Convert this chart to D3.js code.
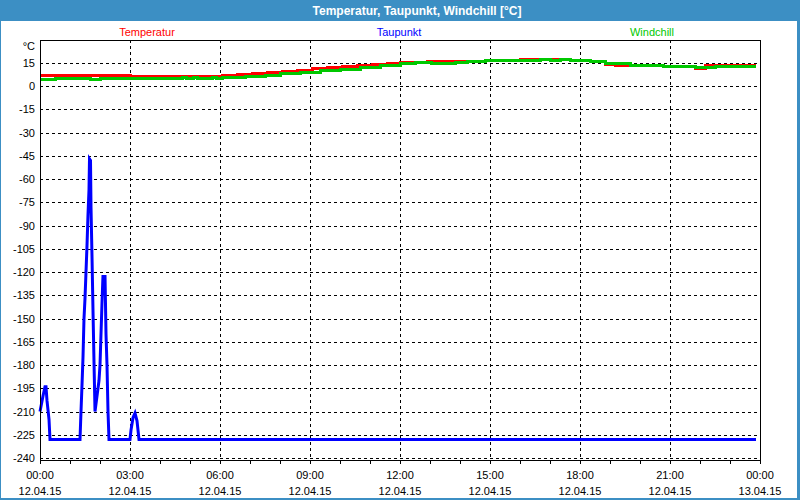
<!DOCTYPE html>
<html><head><meta charset="utf-8">
<script src="https://cdn.jsdelivr.net/npm/d3@7"></script>
<style>html,body{margin:0;padding:0;background:#fff;}svg{display:block;}</style>
</head><body>
<svg id="c" width="800" height="500"></svg>
<script>
const title = "Temperatur, Taupunkt, Windchill [°C]";
const seriesNames = ["Temperatur", "Taupunkt", "Windchill"];
const seriesColors = ["#ff0000", "#0000ff", "#00c800"];
const yTicks = [15,0,-15,-30,-45,-60,-75,-90,-105,-120,-135,-150,-165,-180,-195,-210,-225,-240];
const xTickTimes = ["00:00","03:00","06:00","09:00","12:00","15:00","18:00","21:00","00:00"];
const xTickDates = ["12.04.15","12.04.15","12.04.15","12.04.15","12.04.15","12.04.15","12.04.15","12.04.15","13.04.15"];

// Temperatur
const tempTimes = ["00:00","03:00","06:04","06:34","07:04","07:34","08:04","08:34","09:04","09:34","10:04","10:34","11:04","11:34","12:00","12:54","13:02","13:50","14:50","16:00","17:40","18:20","18:50","19:10","19:40","20:46","21:00","21:50","22:10","23:52"];
const tempValues = [7.0,6.2,6.8,7.4,8.0,8.7,9.3,10.2,11.1,11.9,12.8,13.4,14.1,14.7,14.9,16.0,15.5,16.0,16.3,17.0,16.3,15.6,14.0,13.5,13.1,12.7,12.3,11.6,13.0,13.0];
// Windchill
const chillTimes = ["00:00","00:30","01:40","02:00","04:44","04:52","05:06","05:14","05:44","05:52","06:04","06:50","07:30","08:00","08:40","09:20","10:00","10:40","11:20","12:00","12:30","13:02","13:50","14:14","14:50","16:40","17:00","17:20","17:40","18:20","18:50","19:10","19:40","20:36","20:46","21:00","21:50","22:10","22:30","23:52"];
const chillValues = [4.4,5.0,4.4,5.0,5.6,5.0,5.6,5.0,5.6,5.0,5.5,6.1,7.0,7.8,8.9,9.8,10.8,11.7,13.0,14.3,15.0,14.8,15.3,16.0,16.3,17.0,16.3,17.0,16.3,15.6,14.8,14.5,13.1,13.4,12.7,12.3,11.8,12.0,12.3,12.3];
// Taupunkt
const dewTimes = ["00:00","00:06","00:10","00:12","00:14","00:18","00:20","01:20","01:22","01:24","01:26","01:28","01:30","01:32","01:34","01:36","01:38","01:39","01:41","01:42","01:44","01:46","01:48","01:50","01:52","01:54","01:56","01:58","02:00","02:02","02:04","02:06","02:08","02:10","02:12","02:14","02:16","02:18","03:00","03:02","03:06","03:10","03:14","03:18","23:52"];
const dewValues = [-210,-200,-194,-194,-203,-215,-228,-228,-210,-193,-175,-150,-137,-120,-103,-83,-67,-47,-48,-78,-110,-145,-178,-210,-205,-200,-195,-190,-180,-160,-140,-122,-135,-122,-160,-180,-210,-228,-228,-222,-214,-211,-216,-228,-228];

const toH = s => { const [h,m] = s.split(":").map(Number); return h + m/60; };
const svg = d3.select("#c");
const W = 800, H = 500;
const L = 40, R = 760, T = 40, B = 460;
const x = d3.scaleLinear().domain([0,24]).range([L,R]);
const y = d3.scaleLinear().domain([-240,30]).range([458,39.5]);
const FONT = "'Liberation Sans', Arial, sans-serif";

svg.append("rect").attr("width",W).attr("height",H).attr("fill","#fff");
// title bar
svg.append("rect").attr("x",0).attr("y",0).attr("width",W).attr("height",21).attr("fill","#3c8fc4");
svg.append("text").attr("x",417).attr("y",15).attr("text-anchor","middle")
  .attr("font-family",FONT).attr("font-weight","bold").attr("font-size",12).attr("fill","#fff").text(title);
// window edges
svg.append("rect").attr("x",0).attr("y",0).attr("width",1).attr("height",H).attr("fill","#3c8fc4");
svg.append("rect").attr("x",797).attr("y",0).attr("width",3).attr("height",H).attr("fill","#3c8fc4");
svg.append("rect").attr("x",0).attr("y",498).attr("width",W).attr("height",2).attr("fill","#3c8fc4");

// legend
const legX = [147, 399, 652];
seriesNames.forEach((n,i)=>{
  svg.append("text").attr("x",legX[i]).attr("y",36).attr("text-anchor","middle")
    .attr("font-family",FONT).attr("font-size",11).attr("fill",seriesColors[i]).text(n);
});

// grid
const g = svg.append("g").attr("shape-rendering","crispEdges");
g.selectAll("line.h").data(yTicks).join("line")
  .attr("x1",L).attr("x2",R).attr("y1",d=>Math.round(y(d))+0.5).attr("y2",d=>Math.round(y(d))+0.5)
  .attr("stroke","#000").attr("stroke-dasharray","3,3");
g.selectAll("line.v").data(d3.range(3,24,3)).join("line")
  .attr("y1",T).attr("y2",B).attr("x1",d=>Math.round(x(d))+0.5).attr("x2",d=>Math.round(x(d))+0.5)
  .attr("stroke","#000").attr("stroke-dasharray","3,3");

// series
const mk = (times, vals) => times.map((t,i)=>({h: toH(t) + (t==="00:00" && i>0 ? 24 : 0), v: vals[i]}));
const lineStep = d3.line().x(d=>x(d.h)).y(d=>y(d.v)).curve(d3.curveStepAfter);
const lineLin = d3.line().x(d=>x(d.h)).y(d=>y(d.v));
const plot = svg.append("g");
plot.append("path").datum(mk(tempTimes,tempValues)).attr("d",lineStep)
  .attr("fill","none").attr("stroke",seriesColors[0]).attr("stroke-width",3).attr("shape-rendering","crispEdges");
plot.append("path").datum(mk(chillTimes,chillValues)).attr("d",lineStep)
  .attr("fill","none").attr("stroke",seriesColors[2]).attr("stroke-width",3).attr("shape-rendering","crispEdges");
plot.append("path").datum(mk(dewTimes,dewValues)).attr("d",lineLin)
  .attr("fill","none").attr("stroke",seriesColors[1]).attr("stroke-width",3).attr("stroke-linejoin","miter");

// frame
const f = svg.append("g").attr("shape-rendering","crispEdges").attr("stroke","#000").attr("fill","none");
f.append("line").attr("x1",L+0.5).attr("x2",L+0.5).attr("y1",T).attr("y2",B+1);
f.append("line").attr("x1",R+0.5).attr("x2",R+0.5).attr("y1",T).attr("y2",B+1);
f.append("line").attr("x1",L).attr("x2",R+1).attr("y1",T+0.5).attr("y2",T+0.5);
f.append("line").attr("x1",L).attr("x2",R+1).attr("y1",B+0.5).attr("y2",B+0.5);
f.selectAll("line.t").data(d3.range(0,25,1)).join("line")
  .attr("x1",d=>Math.round(x(d))+0.5).attr("x2",d=>Math.round(x(d))+0.5).attr("y1",B).attr("y2",B+4);

// y labels
svg.selectAll("text.yl").data(yTicks).join("text")
  .attr("x",35).attr("y",d=>y(d)+4).attr("text-anchor","end")
  .attr("font-family",FONT).attr("font-size",11).attr("fill","#000").text(d=>d);
svg.append("text").attr("x",35).attr("y",50).attr("text-anchor","end")
  .attr("font-family",FONT).attr("font-size",11).attr("fill","#000").text("°C");
// x labels
xTickTimes.forEach((t,i)=>{
  svg.append("text").attr("x",x(i*3)).attr("y",479).attr("text-anchor","middle")
    .attr("font-family",FONT).attr("font-size",11).attr("fill","#000").text(t);
  svg.append("text").attr("x",x(i*3)).attr("y",495).attr("text-anchor","middle")
    .attr("font-family",FONT).attr("font-size",11).attr("fill","#000").text(xTickDates[i]);
});
</script>
</body></html>
